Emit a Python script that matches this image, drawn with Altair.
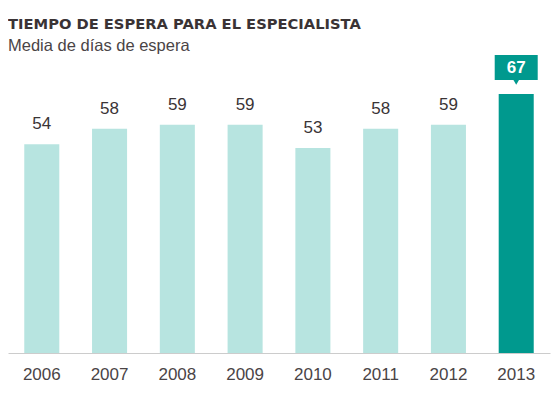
import altair as alt
import pandas as pd

years = ["2006", "2007", "2008", "2009", "2010", "2011", "2012", "2013"]
values = [54, 58, 59, 59, 53, 58, 59, 67]
highlight = [False, False, False, False, False, False, False, True]

df = pd.DataFrame({"year": years, "value": values, "hl": highlight})

LIGHT = "#b7e4e0"
DARK = "#00998e"

x = alt.X("year:N", sort=years, title=None,
          scale=alt.Scale(paddingInner=0.483, paddingOuter=0.24),
          axis=alt.Axis(labelAngle=0, ticks=False, labelFont="Liberation Sans",
                        labelFontSize=17, labelColor="#4a4446", labelPadding=26,
                        labelBaseline="alphabetic", domainColor="#cccccc",
                        domainWidth=1, grid=False))
y = alt.Y("value:Q", title=None, scale=alt.Scale(domain=[0, 75], nice=False),
          axis=None)

base = alt.Chart(df).encode(x=x)

bars = base.mark_bar().encode(
    y=y,
    color=alt.Color("hl:N", scale=alt.Scale(domain=[False, True], range=[LIGHT, DARK]), legend=None),
)

labels = base.transform_filter("!datum.hl").mark_text(
    font="Liberation Sans", fontSize=17, color="#3a3436", baseline="alphabetic", dy=-15
).encode(y=y, text="value:Q")

hl = base.transform_filter("datum.hl")
box = hl.mark_bar(size=43, color=DARK, yOffset=-14, y2Offset=-39).encode(
    y=y, y2=alt.Y2("value:Q"))
tri = hl.mark_point(shape="triangle-down", filled=True, color=DARK, size=45,
                    opacity=1, yOffset=-12).encode(y=y)
hl_label = hl.mark_text(font="Liberation Sans", fontWeight="bold", fontSize=17,
                        color="white", baseline="middle", dy=-26).encode(y=y, text="value:Q")

chart = alt.layer(bars, labels, box, tri, hl_label).properties(
    width=542, height=290,
    autosize=alt.AutoSizeParams(type="none"),
    padding={"left": 0, "top": 55, "right": 2, "bottom": 30},
    title=alt.TitleParams(
        text="TIEMPO DE ESPERA PARA EL ESPECIALISTA",
        subtitle="Media de días de espera",
        anchor="start", frame="group",
        font="DejaVu Sans", fontSize=14.7, fontWeight="bold", color="#3a3335",
        subtitleFont="Liberation Sans", subtitleFontSize=16.5, subtitleColor="#4a4446",
        subtitlePadding=7, offset=0,
    ),
).configure_view(stroke=None)

chart.save("out.html", embed_options={"renderer": "svg", "actions": False})
